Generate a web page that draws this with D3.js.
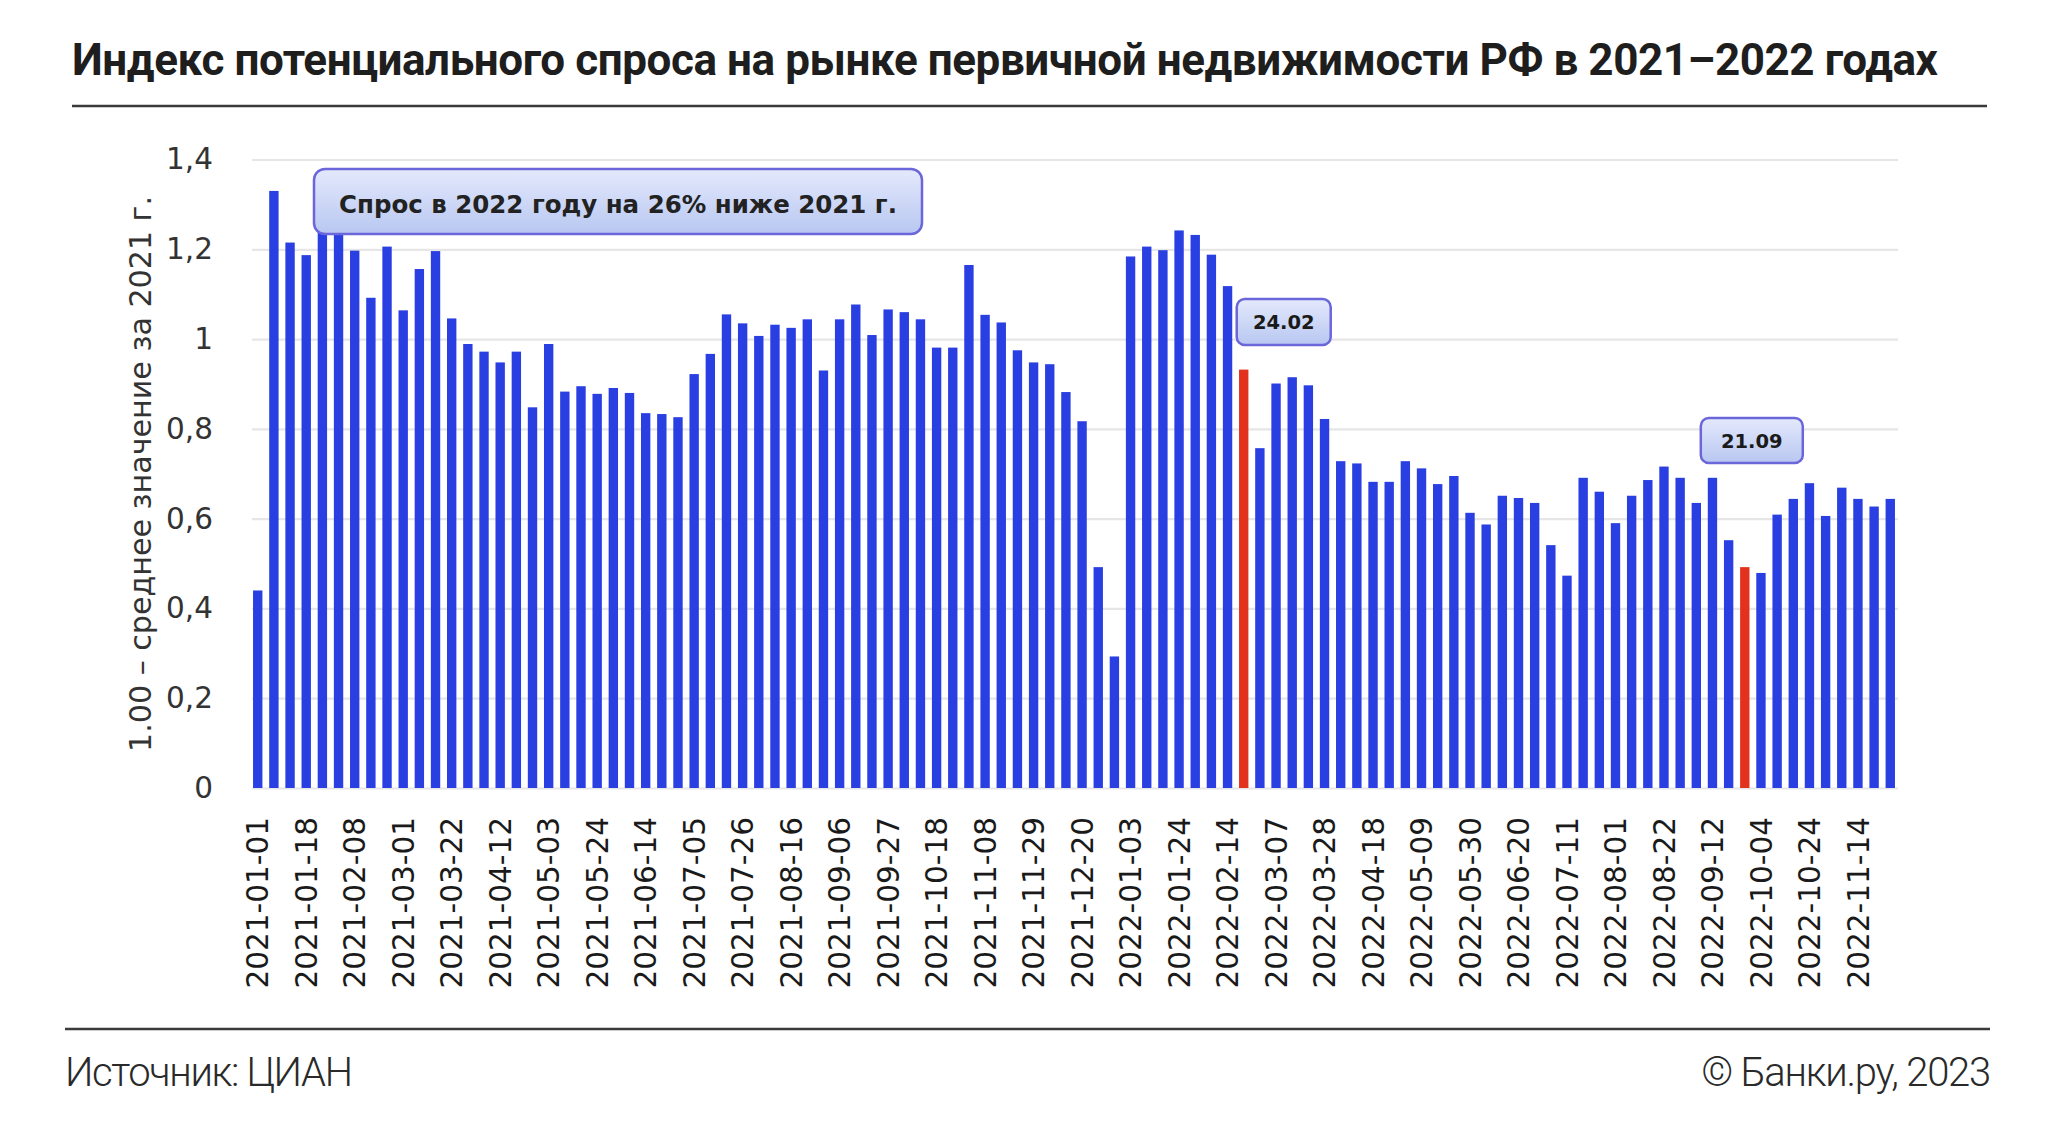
<!DOCTYPE html>
<html><head><meta charset="utf-8">
<script src="https://cdn.jsdelivr.net/npm/d3@7"></script>
<style>body{margin:0;background:#fff;} svg{display:block;}</style>
</head><body>
<svg id="chart" width="2050" height="1125"></svg>
<script>
// ---------- DATA ----------
const dates = [
"2021-01-01","2021-01-04","2021-01-11","2021-01-18","2021-01-25","2021-02-01","2021-02-08","2021-02-15","2021-02-22","2021-03-01",
"2021-03-08","2021-03-15","2021-03-22","2021-03-29","2021-04-05","2021-04-12","2021-04-19","2021-04-26","2021-05-03","2021-05-10",
"2021-05-17","2021-05-24","2021-05-31","2021-06-07","2021-06-14","2021-06-21","2021-06-28","2021-07-05","2021-07-12","2021-07-19",
"2021-07-26","2021-08-02","2021-08-09","2021-08-16","2021-08-23","2021-08-30","2021-09-06","2021-09-13","2021-09-20","2021-09-27",
"2021-10-04","2021-10-11","2021-10-18","2021-10-25","2021-11-01","2021-11-08","2021-11-15","2021-11-22","2021-11-29","2021-12-06",
"2021-12-13","2021-12-20","2021-12-27","2022-01-01","2022-01-03","2022-01-10","2022-01-17","2022-01-24","2022-01-31","2022-02-07",
"2022-02-14","2022-02-21","2022-02-28","2022-03-07","2022-03-14","2022-03-21","2022-03-28","2022-04-04","2022-04-11","2022-04-18",
"2022-04-25","2022-05-02","2022-05-09","2022-05-16","2022-05-23","2022-05-30","2022-06-06","2022-06-13","2022-06-20","2022-06-27",
"2022-07-04","2022-07-11","2022-07-18","2022-07-25","2022-08-01","2022-08-08","2022-08-15","2022-08-22","2022-08-29","2022-09-05",
"2022-09-12","2022-09-19","2022-09-26","2022-10-04","2022-10-10","2022-10-17","2022-10-24","2022-10-31","2022-11-07","2022-11-14",
"2022-11-21","2022-11-28"];
const values = [
0.44,1.33,1.215,1.187,1.24,1.24,1.197,1.092,1.206,1.064,
1.156,1.196,1.046,0.989,0.972,0.948,0.972,0.848,0.989,0.883,
0.895,0.878,0.891,0.880,0.835,0.833,0.826,0.922,0.967,1.055,
1.035,1.007,1.032,1.025,1.044,0.930,1.044,1.077,1.009,1.066,
1.060,1.044,0.981,0.981,1.165,1.054,1.037,0.975,0.948,0.944,
0.882,0.817,0.492,0.293,1.184,1.206,1.198,1.242,1.232,1.188,
1.118,0.932,0.757,0.901,0.915,0.897,0.822,0.728,0.723,0.682,
0.682,0.728,0.712,0.677,0.695,0.613,0.587,0.651,0.646,0.635,
0.541,0.473,0.691,0.660,0.590,0.651,0.686,0.716,0.691,0.635,
0.691,0.552,0.492,0.479,0.609,0.644,0.679,0.606,0.669,0.644,
0.627,0.644];
const highlightDates = ["2022-02-21","2022-09-26"];
const shownDates = ["2021-01-01","2021-01-18","2021-02-08","2021-03-01","2021-03-22","2021-04-12","2021-05-03","2021-05-24","2021-06-14","2021-07-05","2021-07-26","2021-08-16","2021-09-06","2021-09-27","2021-10-18","2021-11-08","2021-11-29","2021-12-20","2022-01-03","2022-01-24","2022-02-14","2022-03-07","2022-03-28","2022-04-18","2022-05-09","2022-05-30","2022-06-20","2022-07-11","2022-08-01","2022-08-22","2022-09-12","2022-10-04","2022-10-24","2022-11-14"];
const yTickValues = [0,0.2,0.4,0.6,0.8,1,1.2,1.4];
const yTickLabels = ["0","0,2","0,4","0,6","0,8","1","1,2","1,4"];
const titleText = "Индекс потенциального спроса на рынке первичной недвижимости РФ в 2021–2022 годах";
const yTitle = "1.00 – среднее значение за 2021 г.";
const sourceText = "Источник: ЦИАН";
const copyrightText = "© Банки.ру, 2023";
const mainNote = "Спрос в 2022 году на 26% ниже 2021 г.";
const eventNotes = [{date:"2022-02-21", text:"24.02"},{date:"2022-09-26", text:"21.09"}];

// ---------- LAYOUT ----------
const svg = d3.select("#chart");
const L = 252, R = 1898, T = 159.5, B = 788;
const x = d3.scaleBand().domain(dates).range([249, 1899]).paddingInner(0.42).paddingOuter(0.25);
const y = d3.scaleLinear().domain([0, 1.4]).range([B, T]);

const defs = svg.append("defs");
const grad = defs.append("linearGradient").attr("id","boxgrad").attr("x1",0).attr("y1",0).attr("x2",0).attr("y2",1);
grad.append("stop").attr("offset","0%").attr("stop-color","#e4e9fc");
grad.append("stop").attr("offset","100%").attr("stop-color","#b8c7f1");

// Title
const title = svg.append("text").attr("x",72).attr("y",75)
  .style("font-family","Roboto, 'Open Sans', sans-serif").style("font-weight",700).style("font-size","44px")
  .attr("fill","#1e1e1e").text(titleText);
(function(){const w=title.node().getComputedTextLength();title.attr("letter-spacing",(1866-w)/(titleText.length-1));})();
svg.append("line").attr("x1",72).attr("x2",1987).attr("y1",106).attr("y2",106).attr("stroke","#3a3a3a").attr("stroke-width",2.5);

// Gridlines
svg.append("g").attr("transform",`translate(${L},0)`)
  .call(d3.axisLeft(y).tickValues(yTickValues).tickSize(-(R-L)).tickFormat(""))
  .call(g=>g.select(".domain").remove())
  .call(g=>g.selectAll("line").attr("stroke","#e6e6e6").attr("stroke-width",2.2));

// Y tick labels
svg.append("g").attr("transform",`translate(${L},0)`)
  .call(d3.axisLeft(y).tickValues(yTickValues).tickSize(0).tickPadding(39).tickFormat((d,i)=>yTickLabels[i]))
  .call(g=>g.select(".domain").remove())
  .call(g=>g.selectAll("text").style("font-family","'DejaVu Sans', Verdana, sans-serif").style("font-size","29.5px").attr("fill","#333"));

// Bars
svg.append("g").selectAll("rect").data(dates).join("rect")
  .attr("x",d=>x(d)).attr("width",x.bandwidth())
  .attr("y",(d,i)=>y(values[i])).attr("height",(d,i)=>y(0)-y(values[i]))
  .attr("fill",d=>highlightDates.includes(d)?"#e2321d":"#2a3fe2");

// X axis labels
svg.append("g").attr("transform",`translate(0,${B})`)
  .call(d3.axisBottom(x).tickValues(shownDates).tickSize(0))
  .call(g=>g.select(".domain").remove())
  .call(g=>g.selectAll("text").attr("transform","rotate(-90)").attr("x",-29).attr("y",0).attr("dy","0.36em")
     .style("text-anchor","end").style("font-family","'DejaVu Sans', Verdana, sans-serif").style("font-size","29.5px").attr("fill","#1a1a1a"));

// Y title
const yt = svg.append("text").attr("transform","translate(151,474) rotate(-90)").attr("text-anchor","middle")
  .style("font-family","'DejaVu Sans', Verdana, sans-serif").style("font-size","28px").attr("fill","#333").text(yTitle);
(function(){const w=yt.node().getComputedTextLength();yt.style("font-size",(28*556/w)+"px");})();

// Main note box
svg.append("rect").attr("x",314).attr("y",169).attr("width",608).attr("height",65).attr("rx",11)
  .attr("fill","url(#boxgrad)").attr("stroke","#6b66d9").attr("stroke-width",2.5);
const mn = svg.append("text").attr("x",618).attr("y",213).attr("text-anchor","middle")
  .style("font-family","'DejaVu Sans', Verdana, sans-serif").style("font-weight",700).style("font-size","27px").attr("fill","#222").text(mainNote);
(function(){const w=mn.node().getComputedTextLength();mn.style("font-size",(27*558/w)+"px");})();

// Event notes
const noteGeom = [{dx:-7, w:94, top:299, h:46},{dx:-44, w:102, top:418, h:45}];
eventNotes.forEach((n,i)=>{
  const cx = x(n.date)+x.bandwidth()/2;
  const g = noteGeom[i];
  svg.append("rect").attr("x",cx+g.dx).attr("y",g.top).attr("width",g.w).attr("height",g.h).attr("rx",8)
    .attr("fill","url(#boxgrad)").attr("stroke","#6b66d9").attr("stroke-width",2.5);
  svg.append("text").attr("x",cx+g.dx+g.w/2).attr("y",g.top+g.h/2).attr("dy","0.36em").attr("text-anchor","middle")
    .style("font-family","'DejaVu Sans', Verdana, sans-serif").style("font-weight",700).style("font-size","19.5px").attr("fill","#1a1a1a").text(n.text);
});

// Footer
svg.append("line").attr("x1",65).attr("x2",1990).attr("y1",1029).attr("y2",1029).attr("stroke","#3a3a3a").attr("stroke-width",2.5);
const src = svg.append("text").attr("x",65).attr("y",1086)
  .style("font-family","Roboto, sans-serif").style("font-weight",300).style("font-size","40px").attr("fill","#2a2a2a").text(sourceText);
(function(){const w=src.node().getComputedTextLength();src.attr("letter-spacing",(288-w)/(sourceText.length-1));})();
const cp = svg.append("text").attr("x",1990).attr("y",1086).attr("text-anchor","end")
  .style("font-family","Roboto, sans-serif").style("font-weight",300).style("font-size","40px").attr("fill","#2a2a2a").text(copyrightText);
(function(){const w=cp.node().getComputedTextLength();cp.attr("letter-spacing",(290-w)/(copyrightText.length-1));})();
</script>
</body></html>
